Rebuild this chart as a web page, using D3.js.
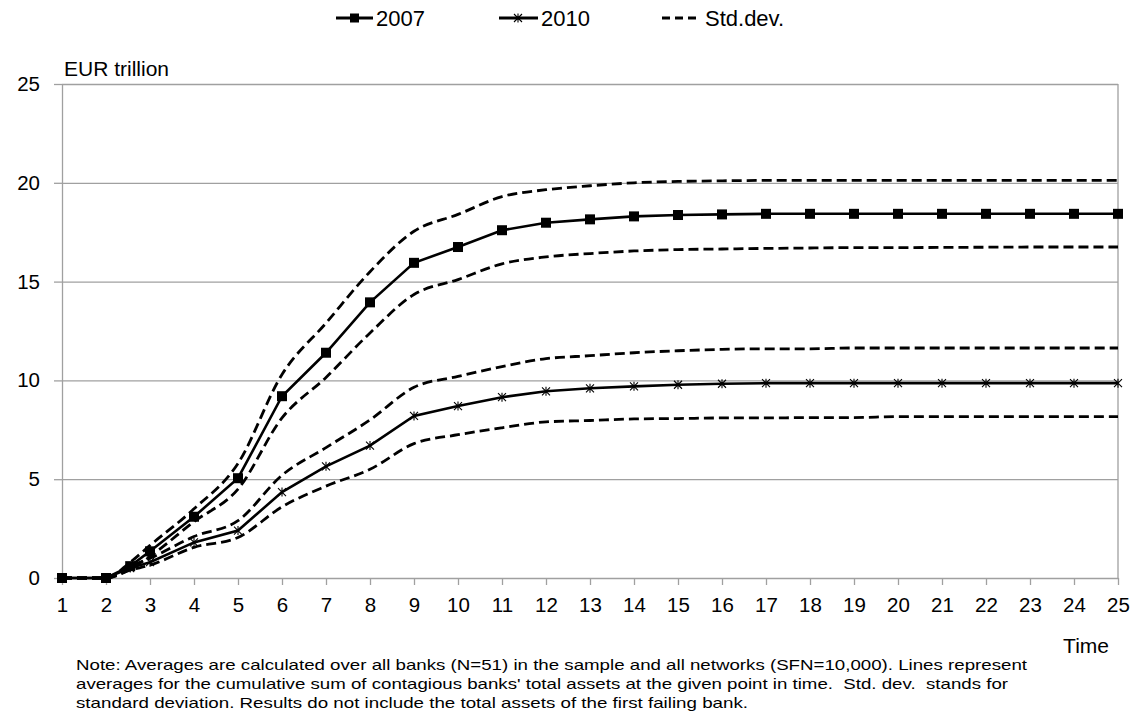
<!DOCTYPE html>
<html><head><meta charset="utf-8">
<script src="https://cdn.jsdelivr.net/npm/d3@7"></script>
<style>
body{margin:0;background:#fff;}
svg{font-family:"Liberation Sans",Arial,sans-serif;display:block;}
.note{white-space:pre;}
</style></head>
<body><svg id="c" width="1136" height="717"></svg>
<script>
const times = [1,2,2.55,3,4,5,6,7,8,9,10,11,12,13,14,15,16,17,18,19,20,21,22,23,24,25];
const xTicks = d3.range(1,26);
const yTicks = [0,5,10,15,20,25];
const mean2007 = [0,0,0.6,1.35,3.1,5.05,9.2,11.4,13.95,15.95,16.75,17.6,17.98,18.15,18.3,18.37,18.4,18.43,18.43,18.43,18.43,18.43,18.43,18.43,18.43,18.43];
const upper2007 = [0,0,0.8,1.65,3.5,5.8,10.3,12.9,15.5,17.55,18.4,19.3,19.65,19.85,20.0,20.07,20.1,20.12,20.12,20.12,20.12,20.12,20.12,20.12,20.12,20.12];
const lower2007 = [0,0,0.45,1.1,2.85,4.5,8.1,10.15,12.4,14.35,15.1,15.9,16.25,16.42,16.55,16.62,16.65,16.68,16.7,16.72,16.72,16.73,16.74,16.75,16.75,16.75];
const mean2010 = [0,0,0.5,0.8,1.8,2.4,4.35,5.65,6.7,8.2,8.7,9.15,9.45,9.6,9.7,9.78,9.83,9.86,9.86,9.86,9.86,9.86,9.86,9.86,9.86,9.86];
const upper2010 = [0,0,0.6,1.0,2.1,2.9,5.2,6.6,8.0,9.65,10.2,10.7,11.1,11.25,11.4,11.5,11.57,11.6,11.6,11.64,11.64,11.64,11.64,11.64,11.64,11.64];
const lower2010 = [0,0,0.4,0.65,1.55,2.05,3.6,4.65,5.5,6.8,7.25,7.6,7.9,7.97,8.05,8.07,8.1,8.1,8.12,8.12,8.17,8.17,8.17,8.17,8.17,8.17];
const legendLabels = ["2007","2010","Std.dev."];
const yTitle = "EUR trillion";
const xTitle = "Time";
const noteLines = [
 "Note: Averages are calculated over all banks (N=51) in the sample and all networks (SFN=10,000). Lines represent",
 "averages for the cumulative sum of contagious banks' total assets at the given point in time.  Std. dev.  stands for",
 "standard deviation. Results do not include the total assets of the first failing bank."
];
const noteWidths = [951, 932, 672];

const svg = d3.select("#c");
const L=62, R=1118, T=84, B=578;
const x = d3.scaleLinear().domain([1,25]).range([L,R]);
const y = d3.scaleLinear().domain([0,25]).range([B,T]);
const gridColor = "#a0a0a0";

svg.append("g").attr("transform",`translate(${L},0)`)
  .call(d3.axisLeft(y).tickValues(yTicks.filter(d=>d>0)).tickSize(-(R-L)).tickFormat(""))
  .call(g=>{g.select(".domain").remove(); g.selectAll("line").attr("stroke",gridColor).attr("stroke-width",1.3);});
svg.append("line").attr("x1",R).attr("x2",R).attr("y1",T).attr("y2",B).attr("stroke",gridColor).attr("stroke-width",1.3);

svg.append("g").attr("transform",`translate(${L},0)`)
  .call(d3.axisLeft(y).tickValues(yTicks).tickSize(8).tickSizeOuter(0).tickPadding(14))
  .call(g=>{g.select(".domain").attr("stroke",gridColor).attr("stroke-width",1.3);
    g.selectAll("line").attr("stroke",gridColor).attr("stroke-width",1.3);
    g.selectAll("text").attr("font-size",20.5).attr("fill","#000").attr("font-family","Liberation Sans, Arial");});
svg.append("g").attr("transform",`translate(0,${B})`)
  .call(d3.axisBottom(x).tickValues(xTicks).tickSize(7).tickSizeOuter(0).tickPadding(12).tickFormat(d3.format("d")))
  .call(g=>{g.select(".domain").attr("stroke",gridColor).attr("stroke-width",1.3);
    g.selectAll("line").attr("stroke",gridColor).attr("stroke-width",1.3);
    g.selectAll("text").attr("font-size",20.5).attr("fill","#000").attr("font-family","Liberation Sans, Arial");});

svg.append("text").attr("x",64).attr("y",76).attr("font-size",21).text(yTitle);
svg.append("text").attr("x",1109).attr("y",653).attr("font-size",21).attr("text-anchor","end").text(xTitle);

const lineLin = d3.line().x((d,i)=>x(times[i])).y(d=>y(d));
const lineSm = d3.line().x((d,i)=>x(times[i])).y(d=>y(d)).curve(d3.curveMonotoneX);

[upper2007,lower2007,upper2010,lower2010].forEach(s=>{
  svg.append("path").datum(s).attr("d",lineSm).attr("fill","none").attr("stroke","#000")
    .attr("stroke-width",2.8).attr("stroke-dasharray","10,5");
});
[mean2007,mean2010].forEach(s=>{
  svg.append("path").datum(s).attr("d",lineLin).attr("fill","none").attr("stroke","#000").attr("stroke-width",2.6);
});
svg.append("g").selectAll("rect").data(mean2007).join("rect")
  .attr("x",(d,i)=>x(times[i])-5).attr("y",d=>y(d)-5).attr("width",10).attr("height",10).attr("fill","#000");
const star = "M-4,-4L4,4M-4,4L4,-4M0,-4.5L0,4.5";
svg.append("g").selectAll("path").data(mean2010).join("path")
  .attr("transform",(d,i)=>`translate(${x(times[i])},${y(d)})`).attr("d",star)
  .attr("stroke","#000").attr("stroke-width",1.1).attr("fill","none");

const lg = svg.append("g");
const ly = 18;
lg.append("line").attr("x1",336).attr("x2",373).attr("y1",ly).attr("y2",ly).attr("stroke","#000").attr("stroke-width",2.8);
lg.append("rect").attr("x",350).attr("y",ly-4.5).attr("width",9).attr("height",9).attr("fill","#000");
lg.append("text").attr("x",376).attr("y",ly+8).attr("font-size",22).text(legendLabels[0]);
lg.append("line").attr("x1",499).attr("x2",538).attr("y1",ly).attr("y2",ly).attr("stroke","#000").attr("stroke-width",2.8);
lg.append("path").attr("transform",`translate(518,${ly})`).attr("d",star).attr("stroke","#000").attr("stroke-width",1.1);
lg.append("text").attr("x",541).attr("y",ly+8).attr("font-size",22).text(legendLabels[1]);
lg.append("line").attr("x1",662).attr("x2",699).attr("y1",ly).attr("y2",ly).attr("stroke","#000").attr("stroke-width",2.8).attr("stroke-dasharray","8,5");
lg.append("text").attr("x",705).attr("y",ly+8).attr("font-size",22).text(legendLabels[2]);

noteLines.forEach((t,i)=>{
  svg.append("text").attr("class","note").attr("x",76).attr("y",670+i*19).attr("font-size",15)
    .attr("textLength",noteWidths[i]).attr("lengthAdjust","spacingAndGlyphs").text(t);
});
</script></body></html>
